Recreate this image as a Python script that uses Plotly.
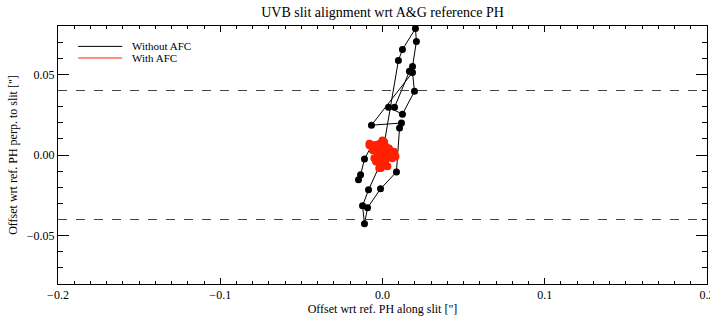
import plotly.graph_objects as go

# Black track: "Without AFC"
x_noafc = [-0.0148, -0.0135, -0.0111, -0.0068, 0.0006, 0.0098, 0.0123, 0.0203, 0.0209,
           0.0185, 0.0166, 0.0074, 0.0037, 0.0123, 0.0197, 0.0185, -0.0068, 0.0117,
           0.0105, 0.0086, -0.0012, -0.0092, -0.0111, -0.0123, -0.0086, 0.0012]
y_noafc = [-0.0154, -0.0123, -0.0025, 0.0056, 0.0043, 0.0586, 0.0654, 0.0784, 0.0704,
           0.0549, 0.0519, 0.0296, 0.0296, 0.0253, 0.0395, 0.0512, 0.0185, 0.0198,
           0.0167, -0.0105, -0.0210, -0.0327, -0.0426, -0.0315, -0.0216, 0.0000]

# Red cluster: "With AFC"
x_afc = [-0.002, 0.002, -0.005, 0.004, -0.007, 0.000, 0.007, -0.004, 0.003, -0.001,
         0.008, -0.006, 0.001, -0.002, 0.005, -0.008, 0.000, 0.004, -0.005, 0.002,
         -0.001, 0.001, -0.008, 0.006]
y_afc = [0.001, -0.003, 0.004, 0.000, 0.006, 0.009, 0.002, -0.004, -0.007, 0.003,
         -0.001, 0.003, 0.007, -0.008, 0.001, 0.006, -0.005, 0.004, -0.002, 0.000,
         -0.008, 0.008, 0.007, -0.002]

limits = [0.04, -0.04]

x_ticks = [-0.2, -0.1, 0.0, 0.1, 0.2]
y_ticks = [-0.05, 0.0, 0.05]

legend_names = ["Without AFC", "With AFC"]
legend_colors = ["black", "#ff2000"]

FONT = "Liberation Serif"
RED = "#ff2000"

fig = go.Figure()
fig.add_trace(go.Scatter(x=x_noafc, y=y_noafc, mode="lines+markers",
                         line=dict(color="black", width=1),
                         marker=dict(color="black", size=7),
                         showlegend=False))
fig.add_trace(go.Scatter(x=x_afc, y=y_afc, mode="lines+markers",
                         line=dict(color=RED, width=4),
                         marker=dict(color=RED, size=8),
                         showlegend=False))

for v in limits:
    fig.add_shape(type="line", xref="paper", x0=0, x1=1, yref="y", y0=v, y1=v,
                  line=dict(color="#444444", width=1, dash="dash"))

# legend drawn in paper coordinates
for i, (name, col) in enumerate(zip(legend_names, legend_colors)):
    yy = 0.921 - i * 0.045
    fig.add_shape(type="line", xref="paper", yref="paper", x0=0.031, x1=0.099,
                  y0=yy, y1=yy, line=dict(color=col, width=1))
    fig.add_annotation(xref="paper", yref="paper", x=0.111, y=yy, text=name,
                       showarrow=False, xanchor="left", yanchor="middle",
                       font=dict(family=FONT, size=11, color="black"))

axis_common = dict(showgrid=False, zeroline=False, showline=True, linecolor="black",
                   linewidth=1, mirror="allticks", ticks="inside", tickcolor="black",
                   automargin=False, ticklabeloverflow="allow",
                   tickfont=dict(family=FONT, size=12, color="black"))

fig.update_xaxes(range=[-0.2, 0.2], tickvals=x_ticks, tickformat=".1f", ticklen=6,
                 minor=dict(dtick=0.01, tick0=0, ticks="inside", ticklen=3, tickcolor="black"),
                 title=dict(text="Offset wrt ref. PH along slit [\"]",
                            font=dict(family=FONT, size=12, color="black"), standoff=2),
                 **axis_common)
fig.update_yaxes(range=[-0.08, 0.08], tickvals=y_ticks, tickformat=".2f", ticklen=11,
                 minor=dict(dtick=0.01, tick0=0, ticks="inside", ticklen=5, tickcolor="black"),
                 title=dict(text="Offset wrt ref. PH perp. to slit [\"]",
                            font=dict(family=FONT, size=12, color="black"), standoff=6),
                 **axis_common)

fig.update_layout(
    width=710, height=320,
    margin=dict(l=58, r=3, t=26, b=36, autoexpand=False),
    plot_bgcolor="white", paper_bgcolor="white",
    title=dict(text="UVB slit alignment wrt A&G reference PH", x=0.5, xref="paper",
               xanchor="center", y=0.9625, yanchor="middle",
               font=dict(family=FONT, size=14, color="black")),
    showlegend=False,
    font=dict(family=FONT, color="black"),
)

fig.write_html("out.html", config={"displayModeBar": False},
               post_script="document.body.style.margin='0';document.body.style.overflow='hidden';")
